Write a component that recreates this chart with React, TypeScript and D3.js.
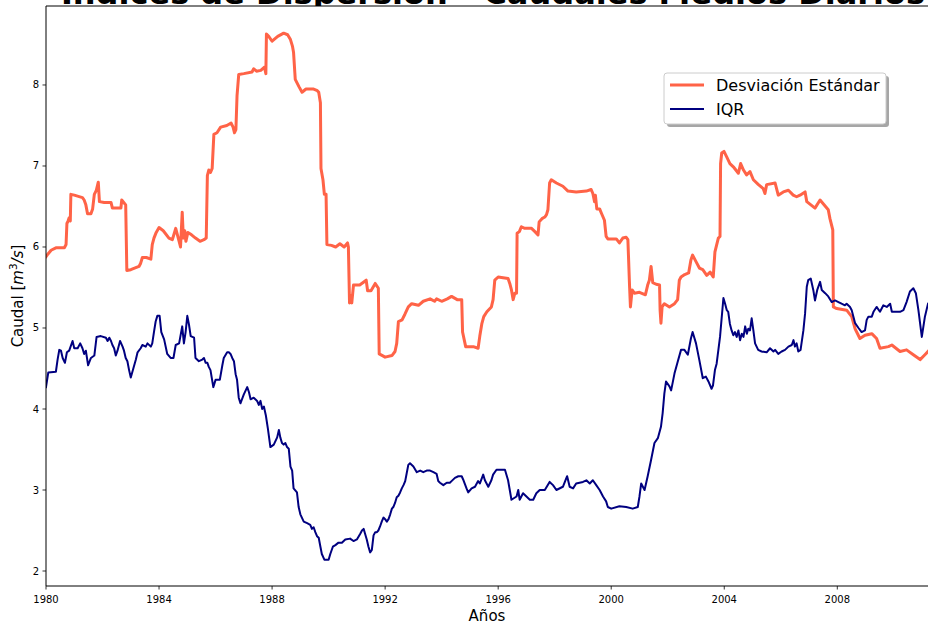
import React from "react";
import * as d3 from "d3";

// Índices de dispersión de caudales medios diarios (ventana móvil), [año, m³/s]
const desviacionEstandar: [number, number][] = [
  [1980.0, 5.88], [1980.04, 5.9], [1980.18, 5.96], [1980.35, 5.99], [1980.65, 5.99], [1980.71, 6.03],
  [1980.74, 6.29], [1980.78, 6.32], [1980.82, 6.36], [1980.86, 6.32], [1980.88, 6.65], [1981.0, 6.64],
  [1981.29, 6.61], [1981.35, 6.58], [1981.41, 6.52], [1981.47, 6.41], [1981.59, 6.41], [1981.65, 6.47],
  [1981.71, 6.65], [1981.78, 6.7], [1981.85, 6.8], [1981.89, 6.56], [1982.06, 6.55], [1982.3, 6.55],
  [1982.35, 6.48], [1982.65, 6.48], [1982.68, 6.58], [1982.75, 6.55], [1982.82, 6.52], [1982.86, 5.71],
  [1983.0, 5.72], [1983.29, 5.76], [1983.35, 5.8], [1983.41, 5.87], [1983.55, 5.87], [1983.71, 5.85],
  [1983.76, 6.03], [1983.82, 6.11], [1983.9, 6.18], [1984.0, 6.24], [1984.15, 6.2], [1984.35, 6.11],
  [1984.47, 6.09], [1984.59, 6.23], [1984.65, 6.15], [1984.71, 6.07], [1984.76, 6.0], [1984.82, 6.43],
  [1984.86, 6.11], [1984.91, 6.2], [1984.95, 6.07], [1985.02, 6.18], [1985.15, 6.15], [1985.29, 6.11],
  [1985.45, 6.07], [1985.59, 6.09], [1985.67, 6.11], [1985.71, 6.88], [1985.76, 6.95], [1985.82, 6.92],
  [1985.88, 6.97], [1985.94, 7.39], [1986.05, 7.41], [1986.18, 7.48], [1986.4, 7.5], [1986.55, 7.53],
  [1986.62, 7.48], [1986.67, 7.41], [1986.72, 7.45], [1986.76, 7.87], [1986.82, 8.13], [1987.0, 8.14],
  [1987.29, 8.16], [1987.35, 8.2], [1987.45, 8.17], [1987.6, 8.18], [1987.73, 8.22], [1987.78, 8.14],
  [1987.8, 8.63], [1987.88, 8.6], [1988.0, 8.54], [1988.2, 8.6], [1988.41, 8.64], [1988.55, 8.62],
  [1988.65, 8.56], [1988.72, 8.48], [1988.76, 8.4], [1988.82, 8.07], [1988.95, 7.98], [1989.06, 7.91],
  [1989.2, 7.95], [1989.47, 7.95], [1989.6, 7.93], [1989.65, 7.91], [1989.71, 7.78], [1989.73, 6.97],
  [1989.8, 6.83], [1989.85, 6.65], [1989.91, 6.65], [1989.94, 6.03], [1990.1, 6.02], [1990.25, 6.0],
  [1990.4, 6.04], [1990.55, 6.0], [1990.67, 6.05], [1990.7, 6.0], [1990.74, 5.31], [1990.78, 5.4],
  [1990.82, 5.31], [1990.88, 5.53], [1991.1, 5.53], [1991.33, 5.59], [1991.38, 5.46], [1991.5, 5.46],
  [1991.65, 5.55], [1991.76, 5.49], [1991.79, 4.68], [1992.0, 4.64], [1992.24, 4.66], [1992.35, 4.71],
  [1992.41, 4.81], [1992.47, 5.08], [1992.6, 5.1], [1992.7, 5.17], [1992.82, 5.26], [1992.94, 5.3],
  [1993.18, 5.28], [1993.35, 5.33], [1993.59, 5.36], [1993.75, 5.33], [1993.82, 5.36], [1994.0, 5.33],
  [1994.2, 5.36], [1994.35, 5.39], [1994.55, 5.35], [1994.71, 5.35], [1994.74, 4.95], [1994.85, 4.77],
  [1995.12, 4.77], [1995.29, 4.75], [1995.35, 4.9], [1995.42, 5.05], [1995.49, 5.14], [1995.6, 5.2],
  [1995.76, 5.26], [1995.82, 5.35], [1995.88, 5.59], [1996.0, 5.63], [1996.35, 5.61], [1996.41, 5.55],
  [1996.47, 5.47], [1996.53, 5.35], [1996.59, 5.43], [1996.65, 5.43], [1996.67, 6.17], [1996.75, 6.19],
  [1996.82, 6.25], [1996.94, 6.23], [1997.18, 6.23], [1997.3, 6.19], [1997.41, 6.15], [1997.45, 6.31],
  [1997.55, 6.35], [1997.65, 6.37], [1997.71, 6.4], [1997.76, 6.46], [1997.82, 6.79], [1997.88, 6.83],
  [1998.06, 6.79], [1998.29, 6.75], [1998.47, 6.69], [1998.76, 6.68], [1999.12, 6.69], [1999.29, 6.71],
  [1999.35, 6.66], [1999.41, 6.56], [1999.44, 6.64], [1999.49, 6.47], [1999.59, 6.47], [1999.65, 6.42],
  [1999.76, 6.33], [1999.82, 6.13], [1999.88, 6.1], [2000.18, 6.1], [2000.29, 6.05], [2000.41, 6.11],
  [2000.53, 6.12], [2000.59, 6.09], [2000.65, 5.51], [2000.68, 5.26], [2000.74, 5.47], [2000.82, 5.43],
  [2001.0, 5.44], [2001.21, 5.41], [2001.29, 5.53], [2001.35, 5.59], [2001.41, 5.76], [2001.47, 5.56],
  [2001.59, 5.54], [2001.71, 5.53], [2001.73, 5.22], [2001.76, 5.06], [2001.8, 5.26], [2001.88, 5.3],
  [2002.06, 5.26], [2002.24, 5.3], [2002.35, 5.35], [2002.41, 5.59], [2002.47, 5.63], [2002.6, 5.66],
  [2002.74, 5.68], [2002.82, 5.84], [2002.88, 5.9], [2003.0, 5.82], [2003.12, 5.74], [2003.24, 5.72],
  [2003.38, 5.65], [2003.5, 5.69], [2003.61, 5.63], [2003.67, 5.94], [2003.79, 6.11], [2003.85, 6.13],
  [2003.87, 7.03], [2003.91, 7.16], [2003.99, 7.18], [2004.09, 7.11], [2004.2, 7.03], [2004.32, 6.99],
  [2004.5, 6.91], [2004.58, 7.03], [2004.68, 6.95], [2004.79, 6.89], [2004.91, 6.93], [2005.03, 6.83],
  [2005.21, 6.77], [2005.38, 6.72], [2005.44, 6.66], [2005.5, 6.77], [2005.8, 6.79], [2005.91, 6.64],
  [2006.09, 6.68], [2006.27, 6.7], [2006.44, 6.64], [2006.56, 6.62], [2006.68, 6.64], [2006.86, 6.68],
  [2006.92, 6.56], [2007.21, 6.48], [2007.39, 6.58], [2007.68, 6.46], [2007.74, 6.35], [2007.84, 6.21],
  [2007.86, 5.26], [2007.98, 5.24], [2008.33, 5.22], [2008.51, 5.14], [2008.63, 4.99], [2008.8, 4.87],
  [2008.98, 4.91], [2009.22, 4.93], [2009.39, 4.87], [2009.51, 4.75], [2009.81, 4.77], [2009.93, 4.79],
  [2010.22, 4.71], [2010.45, 4.73], [2010.69, 4.67], [2010.93, 4.61], [2011.1, 4.67], [2011.21, 4.71],
];

const rangoIntercuartil: [number, number][] = [
  [1980.0, 4.27], [1980.08, 4.45], [1980.35, 4.46], [1980.41, 4.61], [1980.47, 4.73], [1980.53, 4.72],
  [1980.59, 4.63], [1980.67, 4.57], [1980.74, 4.7], [1980.82, 4.72], [1980.94, 4.84], [1981.0, 4.75],
  [1981.12, 4.75], [1981.21, 4.81], [1981.29, 4.75], [1981.35, 4.68], [1981.41, 4.72], [1981.49, 4.54],
  [1981.59, 4.63], [1981.71, 4.66], [1981.79, 4.89], [1981.94, 4.9], [1982.12, 4.88], [1982.18, 4.84],
  [1982.24, 4.88], [1982.3, 4.84], [1982.35, 4.79], [1982.41, 4.75], [1982.47, 4.66], [1982.53, 4.72],
  [1982.62, 4.84], [1982.71, 4.77], [1982.76, 4.72], [1982.82, 4.63], [1982.88, 4.59], [1982.94, 4.48],
  [1983.0, 4.39], [1983.09, 4.5], [1983.18, 4.61], [1983.24, 4.7], [1983.35, 4.75], [1983.41, 4.79],
  [1983.53, 4.77], [1983.59, 4.81], [1983.71, 4.77], [1983.76, 4.81], [1983.82, 4.95], [1983.88, 5.08],
  [1983.94, 5.15], [1984.02, 5.15], [1984.08, 4.95], [1984.18, 4.86], [1984.29, 4.68], [1984.41, 4.63],
  [1984.51, 4.63], [1984.59, 4.79], [1984.71, 4.81], [1984.82, 5.02], [1984.88, 4.81], [1984.94, 4.95],
  [1985.0, 5.15], [1985.06, 5.04], [1985.12, 4.9], [1985.24, 4.88], [1985.29, 4.63], [1985.41, 4.59],
  [1985.53, 4.61], [1985.59, 4.63], [1985.65, 4.57], [1985.71, 4.57], [1985.76, 4.52], [1985.82, 4.48],
  [1985.92, 4.27], [1986.0, 4.36], [1986.15, 4.36], [1986.24, 4.54], [1986.29, 4.63], [1986.41, 4.7],
  [1986.47, 4.7], [1986.53, 4.68], [1986.59, 4.63], [1986.65, 4.59], [1986.71, 4.43], [1986.76, 4.36],
  [1986.82, 4.14], [1986.88, 4.07], [1987.0, 4.18], [1987.12, 4.27], [1987.18, 4.21], [1987.24, 4.12],
  [1987.35, 4.14], [1987.47, 4.1], [1987.53, 4.05], [1987.59, 4.1], [1987.65, 4.0], [1987.71, 4.03],
  [1987.78, 3.92], [1987.85, 3.76], [1987.94, 3.53], [1988.06, 3.56], [1988.18, 3.65], [1988.24, 3.74],
  [1988.29, 3.65], [1988.35, 3.58], [1988.41, 3.56], [1988.47, 3.58], [1988.53, 3.53], [1988.59, 3.51],
  [1988.65, 3.29], [1988.71, 3.24], [1988.76, 3.02], [1988.88, 2.97], [1988.94, 2.79], [1989.0, 2.7],
  [1989.12, 2.61], [1989.24, 2.59], [1989.35, 2.57], [1989.41, 2.52], [1989.47, 2.54], [1989.53, 2.48],
  [1989.59, 2.43], [1989.65, 2.41], [1989.71, 2.3], [1989.76, 2.21], [1989.85, 2.14], [1990.0, 2.14],
  [1990.06, 2.21], [1990.15, 2.3], [1990.24, 2.32], [1990.35, 2.35], [1990.47, 2.35], [1990.59, 2.39],
  [1990.76, 2.4], [1990.88, 2.37], [1991.0, 2.39], [1991.12, 2.46], [1991.18, 2.5], [1991.24, 2.52],
  [1991.29, 2.46], [1991.35, 2.39], [1991.41, 2.3], [1991.47, 2.23], [1991.53, 2.26], [1991.59, 2.44],
  [1991.65, 2.48], [1991.71, 2.48], [1991.76, 2.5], [1991.82, 2.55], [1991.88, 2.61], [1991.94, 2.66],
  [1992.0, 2.64], [1992.06, 2.61], [1992.12, 2.64], [1992.18, 2.7], [1992.24, 2.77], [1992.29, 2.79],
  [1992.35, 2.84], [1992.41, 2.91], [1992.47, 2.93], [1992.53, 2.97], [1992.59, 3.02], [1992.65, 3.06],
  [1992.71, 3.11], [1992.76, 3.2], [1992.82, 3.31], [1992.88, 3.33], [1993.0, 3.29], [1993.12, 3.22],
  [1993.24, 3.24], [1993.35, 3.22], [1993.47, 3.24], [1993.59, 3.24], [1993.71, 3.22], [1993.82, 3.2],
  [1993.88, 3.11], [1993.94, 3.09], [1994.06, 3.06], [1994.18, 3.09], [1994.29, 3.09], [1994.35, 3.11],
  [1994.47, 3.15], [1994.59, 3.17], [1994.71, 3.17], [1994.76, 3.13], [1994.88, 3.02], [1994.94, 2.97],
  [1995.06, 3.02], [1995.18, 3.04], [1995.29, 3.11], [1995.35, 3.08], [1995.47, 3.19], [1995.53, 3.12],
  [1995.65, 3.04], [1995.76, 3.12], [1995.82, 3.19], [1995.94, 3.25], [1996.06, 3.25], [1996.24, 3.25],
  [1996.35, 3.12], [1996.41, 3.0], [1996.47, 2.88], [1996.65, 2.92], [1996.71, 3.0], [1996.76, 2.88],
  [1996.88, 2.96], [1997.0, 2.92], [1997.12, 2.88], [1997.24, 2.88], [1997.35, 2.96], [1997.47, 3.0],
  [1997.65, 3.0], [1997.82, 3.1], [1997.94, 3.06], [1998.06, 3.0], [1998.29, 3.04], [1998.44, 3.17],
  [1998.53, 3.04], [1998.65, 3.02], [1998.76, 3.08], [1999.0, 3.1], [1999.12, 3.12], [1999.24, 3.08],
  [1999.35, 3.12], [1999.47, 3.06], [1999.59, 3.0], [1999.71, 2.92], [1999.82, 2.86], [1999.88, 2.79],
  [2000.0, 2.77], [2000.29, 2.8], [2000.53, 2.79], [2000.76, 2.77], [2000.94, 2.79], [2001.0, 2.92],
  [2001.06, 3.08], [2001.18, 3.0], [2001.29, 3.17], [2001.41, 3.37], [2001.53, 3.58], [2001.65, 3.64],
  [2001.76, 3.78], [2001.82, 3.95], [2001.88, 4.19], [2001.94, 4.34], [2002.06, 4.28], [2002.12, 4.23],
  [2002.24, 4.44], [2002.35, 4.58], [2002.47, 4.73], [2002.59, 4.73], [2002.71, 4.67], [2002.82, 4.87],
  [2002.88, 4.95], [2003.0, 4.81], [2003.12, 4.6], [2003.24, 4.38], [2003.35, 4.4], [2003.44, 4.34],
  [2003.55, 4.25], [2003.6, 4.29], [2003.67, 4.48], [2003.73, 4.56], [2003.85, 4.89], [2003.97, 5.37],
  [2004.03, 5.3], [2004.09, 5.22], [2004.14, 5.2], [2004.2, 5.05], [2004.26, 4.97], [2004.32, 4.91],
  [2004.38, 4.95], [2004.44, 4.89], [2004.5, 4.97], [2004.56, 4.85], [2004.62, 4.93], [2004.68, 4.89],
  [2004.74, 5.02], [2004.8, 4.93], [2004.85, 4.99], [2004.91, 4.97], [2004.97, 5.12], [2005.03, 4.97],
  [2005.09, 4.81], [2005.2, 4.73], [2005.32, 4.71], [2005.5, 4.7], [2005.62, 4.75], [2005.74, 4.71],
  [2005.8, 4.73], [2005.91, 4.68], [2006.03, 4.71], [2006.15, 4.73], [2006.27, 4.77], [2006.39, 4.79],
  [2006.45, 4.85], [2006.5, 4.77], [2006.56, 4.81], [2006.62, 4.71], [2006.7, 4.73], [2006.8, 4.97],
  [2006.86, 5.18], [2006.92, 5.51], [2006.97, 5.59], [2007.06, 5.61], [2007.15, 5.47], [2007.21, 5.34],
  [2007.29, 5.47], [2007.39, 5.57], [2007.45, 5.47], [2007.57, 5.43], [2007.68, 5.39], [2007.8, 5.32],
  [2007.92, 5.34], [2008.04, 5.32], [2008.15, 5.3], [2008.27, 5.28], [2008.33, 5.3], [2008.45, 5.26],
  [2008.51, 5.22], [2008.57, 5.14], [2008.63, 5.06], [2008.75, 5.0], [2008.86, 4.95], [2008.98, 4.97],
  [2009.04, 5.1], [2009.1, 5.14], [2009.22, 5.14], [2009.28, 5.2], [2009.39, 5.26], [2009.51, 5.2],
  [2009.63, 5.28], [2009.75, 5.26], [2009.87, 5.3], [2009.93, 5.2], [2010.04, 5.2], [2010.22, 5.2],
  [2010.34, 5.22], [2010.45, 5.32], [2010.57, 5.45], [2010.69, 5.49], [2010.78, 5.43], [2010.87, 5.22],
  [2010.99, 4.89], [2011.1, 5.14], [2011.21, 5.3],
];

const xTicks = [1980, 1984, 1988, 1992, 1996, 2000, 2004, 2008];
const yTicks = [2, 3, 4, 5, 6, 7, 8];
const seriesNames = ["Desviación Estándar", "IQR"];
const titulo = "Índices de Dispersión - Caudales Medios Diarios";

const W = 928;
const H = 628;
const FONT = "DejaVu Sans, sans-serif";
const COLOR_SD = "#ff6347";
const COLOR_IQR = "#000080";

export default function App() {
  const left = 46;
  const right = 930;
  const top = 6;
  const bottom = 586;

  const x = d3.scaleLinear().domain([1980, 2011.28]).range([left, right]);
  const y = d3.scaleLinear().domain([1.815, 8.975]).range([bottom, top]);

  const line = d3
    .line<[number, number]>()
    .x((d) => x(d[0]))
    .y((d) => y(d[1]));

  const lx = 664;
  const ly = 73;
  const lw = 222;
  const lh = 51;

  return (
    <svg
      width={W}
      height={H}
      style={{ position: "absolute", left: 0, top: 0, background: "#fff" }}
      fontFamily={FONT}
    >
      <rect x={0} y={0} width={W} height={H} fill="#fff" />
      <defs>
        <clipPath id="plotArea">
          <rect x={left} y={top} width={right - left} height={bottom - top} />
        </clipPath>
        <clipPath id="titleArea">
          <rect x={0} y={-40} width={W} height={40 + top} />
        </clipPath>
      </defs>

      <g clipPath="url(#plotArea)" fill="none" strokeLinejoin="round" strokeLinecap="square">
        <path d={line(desviacionEstandar) ?? ""} stroke={COLOR_SD} strokeWidth={3} />
        <path d={line(rangoIntercuartil) ?? ""} stroke={COLOR_IQR} strokeWidth={2} />
      </g>

      {/* spines */}
      <line x1={left} x2={left} y1={top} y2={bottom} stroke="#000" strokeWidth={1} />
      <line x1={left} x2={right} y1={bottom} y2={bottom} stroke="#000" strokeWidth={1} />
      <line x1={left} x2={right} y1={top} y2={top} stroke="#000" strokeWidth={1} />

      {/* y axis */}
      {yTicks.map((t) => (
        <g key={`y${t}`}>
          <line x1={left - 3.5} x2={left} y1={y(t)} y2={y(t)} stroke="#000" strokeWidth={0.8} />
          <text x={left - 7} y={y(t)} dy="0.35em" textAnchor="end" fontSize={10} fill="#000">
            {t}
          </text>
        </g>
      ))}

      {/* x axis */}
      {xTicks.map((t) => (
        <g key={`x${t}`}>
          <line x1={x(t)} x2={x(t)} y1={bottom} y2={bottom + 3.5} stroke="#000" strokeWidth={0.8} />
          <text x={x(t)} y={bottom + 17} textAnchor="middle" fontSize={10} fill="#000">
            {t}
          </text>
        </g>
      ))}

      <text x={(left + 928) / 2} y={621} textAnchor="middle" fontSize={15} fill="#000">
        Años
      </text>

      <text
        transform={`translate(23, ${(top + bottom) / 2}) rotate(-90)`}
        textAnchor="middle"
        fontSize={15}
        fill="#000"
      >
        Caudal [
        <tspan fontStyle="italic">m</tspan>
        <tspan fontSize={10.5} dy={-6}>3</tspan>
        <tspan dy={6} fontStyle="italic">/s</tspan>]
      </text>

      <g clipPath="url(#titleArea)">
        <text x={493} y={3.5} textAnchor="middle" fontSize={32} fontWeight="bold" fill="#000">
          {titulo}
        </text>
      </g>

      {/* legend */}
      <g>
        <rect x={lx + 3} y={ly + 3} width={lw} height={lh} rx={3} fill="#000" opacity={0.35} />
        <rect x={lx} y={ly} width={lw} height={lh} rx={3} fill="#fff" stroke="#cccccc" strokeWidth={1} />
        {seriesNames.map((name, i) => (
          <g key={name}>
            <line
              x1={lx + 6}
              x2={lx + 40}
              y1={ly + 12 + i * 24}
              y2={ly + 12 + i * 24}
              stroke={i === 0 ? COLOR_SD : COLOR_IQR}
              strokeWidth={i === 0 ? 3 : 2}
            />
            <text x={lx + 52} y={ly + 12 + i * 24} dy="0.36em" fontSize={16} fill="#000">
              {name}
            </text>
          </g>
        ))}
      </g>
    </svg>
  );
}
